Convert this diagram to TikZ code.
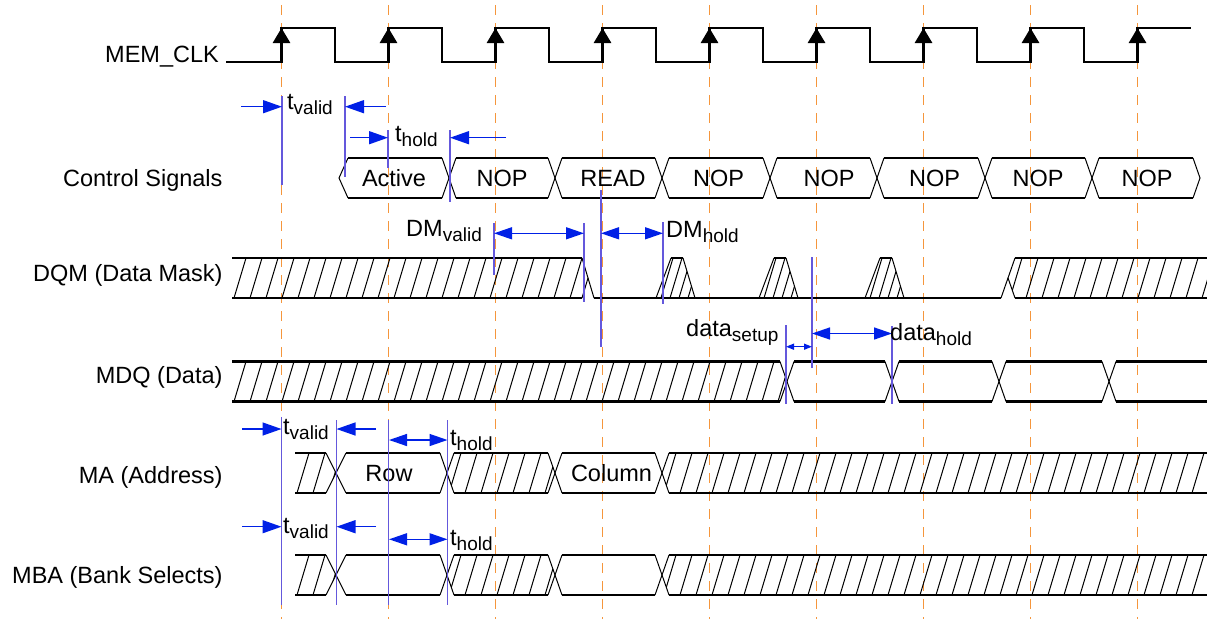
\documentclass[tikz,border=0pt]{standalone}
\usepackage{fontspec}
\setmainfont{Liberation Sans}
\usetikzlibrary{arrows.meta}
\usepackage{xcolor}
\definecolor{blue}{RGB}{0, 32, 230}
\definecolor{violet}{RGB}{100, 88, 220}
\definecolor{orange}{RGB}{245, 150, 60}

\newcommand{\lowsub}[1]{\raisebox{-5pt}{\fontsize{19}{19}\selectfont #1}}

\newcommand{\busline}[5]{%
    \draw[sigline] ({#1+#4},{#3-20}) -- ({#2-#5},{#3-20});
    \draw[sigline] ({#1+#4},{#3+20}) -- ({#2-#5},{#3+20});
    \ifdim #4pt>0pt \draw[slantline] ({#1+#4},{#3-20}) -- (#1,#3) -- ({#1+#4},{#3+20}); \fi
    \ifdim #5pt>0pt \draw[slantline] ({#2-#5},{#3-20}) -- (#2,#3) -- ({#2-#5},{#3+20}); \fi
}

\newcommand{\bushatch}[5]{%
    \begin{scope}
        \clip (#1,#3) -- ({#1+#4},{#3-20}) -- ({#2-#5},{#3-20}) -- (#2,#3)
            -- ({#2-#5},{#3+20}) -- ({#1+#4},{#3+20}) -- cycle;
        \foreach \k in {0,...,75}
            \draw[hatchline] ({#1-14+16*\k},{#3+20}) -- ++(12,-40);
    \end{scope}
    \busline{#1}{#2}{#3}{#4}{#5}
}

\newcommand{\maskpulse}[1]{%
    \begin{scope}
        \clip (#1,298) -- ({#1+15},258) -- ({#1+27},258) -- ({#1+39},298) -- cycle;
        \foreach \k in {0,...,5}
            \draw[hatchline] ({#1-4+9*\k},298) -- ++(12,-40);
    \end{scope}
    \draw[slantline] (#1,298) -- ({#1+15},258);
    \draw[sigline] ({#1+15},258) -- ({#1+27},258);
    \draw[slantline] ({#1+27},258) -- ({#1+39},298);
}

\begin{document}
\begin{tikzpicture}[
        x=1pt, y=-1pt,
        every node/.style={inner sep=0pt, font=\fontsize{23.5}{28}\selectfont},
        sigline/.style={line width=2.2pt},
        slantline/.style={line width=1pt},
        hatchline/.style={line width=1pt},
        clkline/.style={line width=2.8pt},
        clkmark/.style={orange, line width=1.2pt, dash pattern=on 10pt off 8pt},
        markline/.style={violet, line width=1.1pt},
        tarrow/.style={blue, line width=1.4pt, -{Triangle[length=19pt, width=13pt]}},
        tboth/.style={blue, line width=1.4pt,
            {Triangle[length=18pt, width=12pt]}-{Triangle[length=18pt, width=12pt]}},
        tsmall/.style={blue, line width=1.4pt,
            {Triangle[length=8pt, width=6pt]}-{Triangle[length=8pt, width=6pt]}}
    ]
        \useasboundingbox (0,0) rectangle (1207,619);

        \foreach \k in {0,...,8}
            \draw[clkmark] ({281.5+107*\k},5) -- ({281.5+107*\k},619);

        \node (clk) [anchor=base east] at (219,62.7) {MEM\_CLK};
        \node (ctl) [anchor=base east] at (222.7,186.7) {Control Signals};
        \node (dqm) [anchor=base east] at (222.7,281.7) {DQM (Data Mask)};
        \node (mdq) [anchor=base east] at (222.7,383) {MDQ (Data)};
        \node (ma) [anchor=base east] at (222.7,483) {MA (Address)};
        \node (mba) [anchor=base east] at (222.7,583) {MBA (Bank Selects)};

        \draw[clkline] (226,62)
            \foreach \k in {0,...,7} {
                -- ({281.5+107*\k},62) -- ({281.5+107*\k},28)
                -- ({335+107*\k},28) -- ({335+107*\k},62)
            }
            -- (1137.5,62) -- (1137.5,28) -- (1191,28);
        \foreach \k in {0,...,8}
            \draw[clkline, -{Triangle[length=15pt, width=17pt]}]
                ({281.5+107*\k},62) -- ({281.5+107*\k},28);

        \busline{339}{449}{178}{9}{7}
        \busline{449}{555}{178}{7}{7}
        \busline{555}{662}{178}{7}{7}
        \busline{662}{770}{178}{7}{7}
        \busline{770}{877}{178}{7}{7}
        \busline{877}{985}{178}{7}{7}
        \busline{985}{1092}{178}{7}{7}
        \busline{1092}{1200}{178}{7}{7}
        \node (active) [anchor=base] at (394,186) {Active};
        \node (nop1) [anchor=base] at (502,186) {NOP};
        \node (read) [anchor=base] at (613,186) {READ};
        \node (nop2) [anchor=base] at (718.5,186) {NOP};
        \node (nop3) [anchor=base] at (829,186) {NOP};
        \node (nop4) [anchor=base] at (934.5,186) {NOP};
        \node (nop5) [anchor=base] at (1038,186) {NOP};
        \node (nop6) [anchor=base] at (1147,186) {NOP};

        \bushatch{232}{588}{278}{0}{6}
        \draw[slantline] (588,278) -- (594,298);
        \draw[sigline] (594,298) -- (1001,298);
        \draw[slantline] (1001,298) -- (1008,278);
        \maskpulse{656}
        \maskpulse{759}
        \maskpulse{865}
        \bushatch{1008}{1240}{278}{7}{0}

        \bushatch{232}{787}{381.5}{0}{7}
        \busline{787}{892}{381.5}{7}{7}
        \busline{892}{999}{381.5}{7}{7}
        \busline{999}{1109}{381.5}{7}{7}
        \busline{1109}{1240}{381.5}{7}{0}

        \bushatch{295}{336}{473}{0}{10}
        \busline{336}{447}{473}{10}{7}
        \bushatch{447}{555}{473}{7}{7}
        \busline{555}{662}{473}{7}{7}
        \bushatch{662}{1240}{473}{7}{0}
        \node (row) [anchor=base] at (389,481) {Row};
        \node (column) [anchor=base] at (611.5,481) {Column};

        \bushatch{295}{336}{575}{0}{10}
        \busline{336}{447}{575}{10}{7}
        \bushatch{447}{555}{575}{7}{7}
        \busline{555}{662}{575}{7}{7}
        \bushatch{662}{1240}{575}{7}{0}

        \draw[markline] (282,96) -- (282,185);
        \draw[markline] (345,96) -- (345,177);
        \draw[markline] (388,130) -- (388,168);
        \draw[markline] (450,130) -- (450,202);
        \draw[markline] (494,223) -- (494,275);
        \draw[markline] (584,223) -- (584,302);
        \draw[markline] (601,190) -- (601,347);
        \draw[markline] (663,222) -- (663,304);
        \draw[markline] (786,325) -- (786,404);
        \draw[markline] (812,257) -- (812,368);
        \draw[markline] (892,326) -- (892,404);
        \draw[markline] (281.5,417) -- (281.5,605);
        \draw[markline] (336.5,420) -- (336.5,605);
        \draw[markline] (388.5,420) -- (388.5,605);
        \draw[markline] (447.5,420) -- (447.5,605);

        \draw[tarrow] (241,106.7) -- (282,106.7);
        \draw[tarrow] (386,106.7) -- (345,106.7);
        \draw[tarrow] (350,137.7) -- (388,137.7);
        \draw[tarrow] (506,137.7) -- (450,137.7);
        \draw[tboth] (494,233.3) -- (584,233.3);
        \draw[tboth] (601,233.3) -- (663,233.3);
        \draw[tsmall] (786,346.7) -- (812,346.7);
        \draw[tboth] (812,333.5) -- (892,333.5);
        \draw[tarrow] (242,429) -- (281.5,429);
        \draw[tarrow] (376,429) -- (336.5,429);
        \draw[tboth] (389,440) -- (447.5,440);
        \draw[tarrow] (242,526.7) -- (281.5,526.7);
        \draw[tarrow] (376,526.7) -- (336.5,526.7);
        \draw[tboth] (389,539.3) -- (447.5,539.3);

        \node (tvalid1) [anchor=base west] at (287,109) {t\lowsub{valid}};
        \node (thold1) [anchor=base west] at (395,141) {t\lowsub{hold}};
        \node (dmvalid) [anchor=base west] at (406,236.7) {DM\lowsub{valid}};
        \node (dmhold) [anchor=base west] at (666,237.3) {DM\lowsub{hold}};
        \node (dsetup) [anchor=base west] at (686,336) {data\lowsub{setup}};
        \node (dhold) [anchor=base west] at (890,340) {data\lowsub{hold}};
        \node (tvalid2) [anchor=base west] at (283,434) {t\lowsub{valid}};
        \node (thold2) [anchor=base west] at (450,445) {t\lowsub{hold}};
        \node (tvalid3) [anchor=base west] at (283,533) {t\lowsub{valid}};
        \node (thold3) [anchor=base west] at (450,545) {t\lowsub{hold}};
\end{tikzpicture}
\end{document}
